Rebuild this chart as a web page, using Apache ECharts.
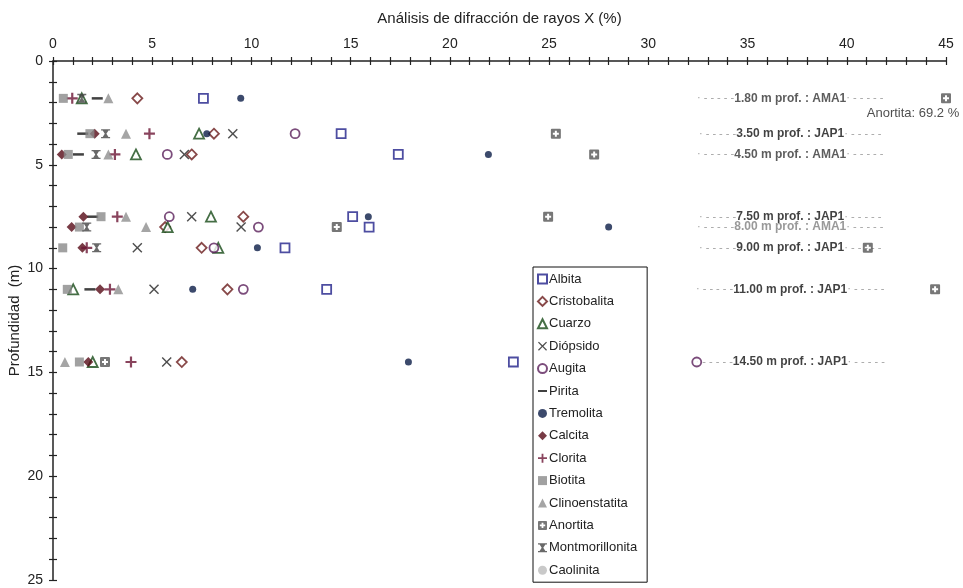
<!DOCTYPE html>
<html>
<head>
<meta charset="utf-8">
<script src="https://cdn.jsdelivr.net/npm/echarts@6/dist/echarts.min.js"></script>
<style>html,body{margin:0;padding:0;background:#fff}#c{width:963px;height:588px}</style>
</head>
<body>
<div id="c"></div>
<script>
// ---- Data ----
const depths = [1.8, 3.5, 4.5, 7.5, 8.0, 9.0, 11.0, 14.5];
const sites  = ['AMA1', 'JAP1', 'AMA1', 'JAP1', 'AMA1', 'JAP1', 'JAP1', 'JAP1'];

const albita          = [7.58, 14.52, 17.4, 15.1, 15.93, 11.69, 13.79, 23.2];
const cristobalita    = [4.25, 8.11, 6.99, 9.59, 5.65, 7.49, 8.79, 6.49];
const cuarzo          = [1.45, 7.36, 4.18, 7.96, 5.78, 8.33, 1.02, 2.0];
const diopsido        = [null, 9.06, 6.62, 6.99, 9.48, 4.25, 5.09, 5.73];
const augita          = [null, 12.2, 5.76, 5.86, 10.35, 8.11, 9.59, 32.44];
const pirita          = [2.23, 1.5, 1.28, 2.0, null, null, 1.86, null];
const tremolita       = [9.46, 7.75, 21.94, 15.89, 28.0, 10.3, 7.04, 17.91];
const calcita         = [null, 2.1, 0.44, 1.53, 0.94, 1.48, 2.37, 1.78];
const clorita         = [0.97, 4.86, 3.12, 3.24, null, 1.7, 2.87, 3.93];
const biotita         = [0.52, 1.86, 0.77, 2.42, 1.33, 0.49, 0.72, 1.33];
const clinoenstatita  = [2.79, 3.68, 2.79, 3.68, 4.69, null, 3.29, 0.6];
const anortita        = [69.2, 25.34, 27.27, 24.95, 14.3, 41.06, 44.45, 2.62];
const montmorillonita = [1.45, 2.65, 2.17, null, 1.7, 2.2, null, null];
const caolinita       = [null, null, null, null, null, null, null, null];

const X_MIN = 0, X_MAX = 45, Y_MIN = 0, Y_MAX = 25;

// ---- Styling ----
const LABEL_X = 37.15;
const FONT = 'Liberation Sans, Arial, sans-serif';

const P_X = 'path://M1,0 L5,4 L9,0 L10,1 L6,5 L10,9 L9,10 L5,6 L1,10 L0,9 L4,5 L0,1 Z';
const P_PLUS = 'path://M4,0 L6,0 L6,4 L10,4 L10,6 L6,6 L6,10 L4,10 L4,6 L0,6 L0,4 L4,4 Z';
const P_ANOR = 'path://M1,0 L9,0 Q10,0 10,1 L10,9 Q10,10 9,10 L1,10 Q0,10 0,9 L0,1 Q0,0 1,0 Z M4,2 L4,4 L2,4 L2,6 L4,6 L4,8 L6,8 L6,6 L8,6 L8,4 L6,4 L6,2 Z';
const P_MONT = 'path://M0,0 L10,0 L10,1.4 L8.2,1.4 L5.9,5 L8.2,8.6 L10,8.6 L10,10 L0,10 L0,8.6 L1.8,8.6 L4.1,5 L1.8,1.4 L0,1.4 Z';
const P_DASH = 'path://M0,4 L10,4 L10,6.2 L0,6.2 Z';

function pairs(vals) {
  const out = [];
  vals.forEach((v, i) => { if (v !== null) out.push([Math.min(v, X_MAX), depths[i]]); });
  return out;
}

function mk(name, vals, symbol, size, itemStyle) {
  return {
    name, type: 'scatter', data: pairs(vals), symbol, symbolSize: size,
    itemStyle, z: 5, emphasis: { disabled: true }
  };
}

const hollow = (c) => ({ color: '#ffffff', borderColor: c, borderWidth: 1.8 });

const series = [
  mk('Albita', albita, 'rect', 9, hollow('#20208a')),
  mk('Cristobalita', cristobalita, 'diamond', 10, hollow('#6a1c1c')),
  mk('Cuarzo', cuarzo, 'triangle', 10, hollow('#174a17')),
  mk('Diópsido', diopsido, P_X, 10, { color: '#222222' }),
  mk('Augita', augita, 'circle', 9, hollow('#5a1f5a')),
  mk('Pirita', pirita, 'rect', [11, 2.5], { color: '#111111' }),
  mk('Tremolita', tremolita, 'circle', 7, { color: '#0b1d47' }),
  mk('Calcita', calcita, 'diamond', 10, { color: '#560a16' }),
  mk('Clorita', clorita, P_PLUS, 11, { color: '#6b1535' }),
  mk('Biotita', biotita, 'rect', 9, { color: '#8a8a8a' }),
  mk('Clinoenstatita', clinoenstatita, 'triangle', 10, { color: '#8f8f8f' }),
  mk('Anortita', anortita, P_ANOR, 10, { color: '#555555' }),
  mk('Montmorillonita', montmorillonita, P_MONT, 9, { color: '#444444' }),
  mk('Caolinita', caolinita, 'circle', 7, { color: '#bbbbbb' })
];

// Anortita overflow label (value beyond axis max)
const anorIdx = series.findIndex(s => s.name === 'Anortita');
series[anorIdx].data = anortita.map((v, i) => {
  if (v === null) return null;
  const item = { value: [Math.min(v, X_MAX), depths[i]] };
  if (v > X_MAX) {
    item.label = {
      show: true, position: 'bottom', distance: 4, offset: [-33, 0],
      formatter: 'Anortita: ' + v.toFixed(1) + ' %',
      fontFamily: FONT, fontSize: 13, color: '#222'
    };
  }
  return item;
}).filter(d => d);

// Depth annotation labels
series.push({
  name: 'depthLabels', type: 'scatter', z: 2, silent: true,
  symbolSize: 1, itemStyle: { color: 'rgba(0,0,0,0)' },
  data: depths.map((d, i) => ({
    value: [LABEL_X, d],
    label: {
      rich: {
        d: { color: '#8a8a8a', fontSize: 11, fontFamily: FONT },
        t: { color: (sites[i] === 'AMA1' ? (d === 8.0 ? '#808080' : '#333333') : '#111111'),
             fontWeight: 'bold', fontSize: 12, fontFamily: FONT }
      }
    }
  })),
  label: {
    show: true, position: 'inside',
    formatter: (p) => {
      const i = p.dataIndex;
      return '{d|· - - - - -}{t|' + depths[i].toFixed(2) + ' m prof. : ' + sites[i] + '}{d|· - - - - -}';
    }
  }
});

const chart = echarts.init(document.getElementById('c'), null, { renderer: 'canvas' });

const xBase = {
  type: 'value', min: X_MIN, max: X_MAX, interval: 1, position: 'top',
  splitLine: { show: false }
};
const yBase = {
  type: 'value', min: Y_MIN, max: Y_MAX, interval: 1, inverse: true, position: 'left',
  splitLine: { show: false }
};

const legendNames = ['Albita','Cristobalita','Cuarzo','Diópsido','Augita','Pirita','Tremolita','Calcita','Clorita','Biotita','Clinoenstatita','Anortita','Montmorillonita','Caolinita'];

chart.setOption({
  animation: false,
  backgroundColor: '#ffffff',
  grid: { left: 53, right: 17, top: 61, bottom: 8, containLabel: false, outerBoundsMode: 'none' },
  legend: {
    orient: 'vertical', left: 533, top: 267, height: 320,
    padding: [4, 10, 4, 4], itemGap: 6.4, itemWidth: 9, itemHeight: 9,
    borderColor: '#111', borderWidth: 1, backgroundColor: '#fff',
    textStyle: { fontFamily: FONT, fontSize: 13, color: '#222', lineHeight: 16, padding: [0, 0, 0, -3] },
    data: legendNames.map(n => n === 'Pirita' ? { name: n, icon: P_DASH } : n),
    selectedMode: false
  },
  xAxis: [
    Object.assign({}, xBase, {
      name: 'Análisis de difracción de rayos X (%)', nameLocation: 'middle', nameGap: 35,
      nameTextStyle: { fontFamily: FONT, fontSize: 15, color: '#222' },
      axisLine: { show: true, lineStyle: { color: '#222', width: 1.5 } },
      axisTick: { show: true, inside: false, length: 4, lineStyle: { color: '#222', width: 1.2 } },
      axisLabel: { show: true, margin: 10, fontFamily: FONT, fontSize: 14, color: '#222',
        formatter: v => (v % 5 === 0 ? String(v) : '') }
    }),
    Object.assign({}, xBase, {
      axisLine: { show: false },
      axisTick: { show: true, inside: true, length: 4, lineStyle: { color: '#222', width: 1.2 } },
      axisLabel: { show: false }
    })
  ],
  yAxis: [
    Object.assign({}, yBase, {
      name: 'Profundidad  (m)', nameLocation: 'middle', nameGap: 31, nameRotate: 90,
      nameMoveOverlap: false,
      nameTextStyle: { fontFamily: FONT, fontSize: 15, color: '#222' },
      axisLine: { show: true, lineStyle: { color: '#222', width: 1.5 } },
      axisTick: { show: true, inside: false, length: 4, lineStyle: { color: '#222', width: 1.2 } },
      axisLabel: { show: true, margin: 10, fontFamily: FONT, fontSize: 14, color: '#222',
        formatter: v => (v % 5 === 0 ? String(v) : '') }
    }),
    Object.assign({}, yBase, {
      axisLine: { show: false },
      axisTick: { show: true, inside: true, length: 4, lineStyle: { color: '#222', width: 1.2 } },
      axisLabel: { show: false }
    })
  ],
  series: series
});
</script>
</body>
</html>
